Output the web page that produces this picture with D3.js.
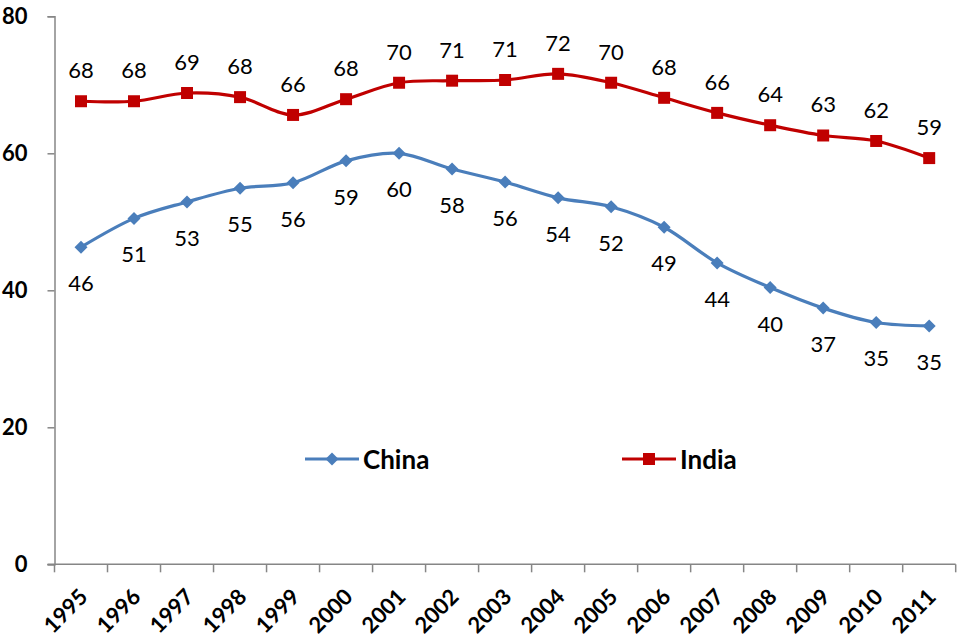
<!DOCTYPE html>
<html>
<head>
<meta charset="utf-8">
<script src="https://cdn.jsdelivr.net/npm/d3@7/dist/d3.min.js"></script>
<style>
  html, body { margin: 0; padding: 0; background: #fff; }
  svg { display: block; font-family: Lato, "Open Sans", sans-serif; }
</style>
</head>
<body>
<svg id="chart" width="960" height="641"></svg>
<script>
// Share data, 1995–2011
const years = ["1995","1996","1997","1998","1999","2000","2001","2002","2003",
               "2004","2005","2006","2007","2008","2009","2010","2011"];
const china = [46.3, 50.5, 52.9, 54.9, 55.7, 58.9, 60.0, 57.7, 55.8,
               53.5, 52.2, 49.2, 44.0, 40.4, 37.4, 35.3, 34.8];
const india = [67.6, 67.6, 68.8, 68.2, 65.6, 67.9, 70.3, 70.6, 70.7,
               71.6, 70.3, 68.1, 65.9, 64.1, 62.6, 61.8, 59.3];
const yTicks = [0, 20, 40, 60, 80];

const series = [
  { name: "China", values: china, color: "#4a7ebb", marker: "diamond", labelDy: 44 },
  { name: "India", values: india, color: "#c00000", marker: "square", labelDy: -23 }
];

const svg = d3.select("#chart");
const plotLeft = 54.5, plotRight = 955.7, plotTop = 16.3, plotBottom = 564.3;

const x = d3.scaleBand().domain(years).range([plotLeft, plotRight]);
const y = d3.scaleLinear().domain([0, 80]).range([plotBottom, plotTop]);
const cx = d => x(d) + x.bandwidth() / 2;

// Y axis
const yAxis = svg.append("g")
  .attr("transform", `translate(${plotLeft},0)`)
  .call(d3.axisLeft(y).tickValues(yTicks).tickSize(7).tickPadding(20));
yAxis.select(".domain").attr("stroke", "#868686").attr("stroke-width", 1.5);
yAxis.selectAll(".tick line").attr("stroke", "#868686").attr("stroke-width", 1.5);
yAxis.selectAll(".tick text")
  .attr("font-family", "Lato, sans-serif")
  .attr("font-size", 22).attr("font-weight", "bold").attr("fill", "#000");

// X axis: ticks at band boundaries
const xAxisG = svg.append("g").attr("transform", `translate(0,${plotBottom})`);
xAxisG.append("line")
  .attr("x1", plotLeft - 7).attr("x2", plotRight)
  .attr("stroke", "#868686").attr("stroke-width", 1.5);
const bounds = years.map(d => x(d)).concat([plotRight]);
xAxisG.selectAll("line.tk").data(bounds).join("line")
  .attr("class", "tk")
  .attr("x1", d => d).attr("x2", d => d)
  .attr("y1", 0).attr("y2", 8)
  .attr("stroke", "#868686").attr("stroke-width", 1.5);
xAxisG.selectAll("text").data(years).join("text")
  .attr("transform", d => `translate(${cx(d) + 8},${34}) rotate(-45)`)
  .attr("text-anchor", "end")
  .attr("font-size", 22).attr("font-weight", "bold").attr("fill", "#000")
  .text(d => d);

const line = d3.line()
  .x((v, i) => cx(years[i]))
  .y(v => y(v))
  .curve(d3.curveCardinal.tension(0));

const diamond = s => `M0,${-s}L${s},0L0,${s}L${-s},0Z`;
const square = s => `M${-s},${-s}H${s}V${s}H${-s}Z`;
const markerPath = (m) => m === "diamond" ? diamond(6.5) : square(6);

series.forEach(s => {
  const g = svg.append("g");
  g.append("path")
    .attr("d", line(s.values))
    .attr("fill", "none")
    .attr("stroke", s.color)
    .attr("stroke-width", 3.2)
    .attr("stroke-linejoin", "round");
  g.selectAll("path.mk").data(s.values).join("path")
    .attr("class", "mk")
    .attr("transform", (v, i) => `translate(${cx(years[i])},${y(v)})`)
    .attr("d", markerPath(s.marker))
    .attr("fill", s.color);
  g.selectAll("text").data(s.values).join("text")
    .attr("x", (v, i) => cx(years[i]))
    .attr("y", v => y(v) + s.labelDy)
    .attr("text-anchor", "middle")
    .attr("font-size", 22)
    .attr("fill", "#000")
    .text(v => d3.format(".0f")(v));
});

// Legend
const legendItems = [
  { s: series[0], x0: 305, x1: 359, tx: 363 },
  { s: series[1], x0: 622, x1: 676, tx: 680 }
];
const ly = 459;
legendItems.forEach(it => {
  const g = svg.append("g");
  g.append("line")
    .attr("x1", it.x0).attr("x2", it.x1).attr("y1", ly).attr("y2", ly)
    .attr("stroke", it.s.color).attr("stroke-width", 3.2);
  g.append("path")
    .attr("transform", `translate(${(it.x0 + it.x1) / 2},${ly})`)
    .attr("d", markerPath(it.s.marker))
    .attr("fill", it.s.color);
  g.append("text")
    .attr("x", it.tx).attr("y", ly + 9.5)
    .attr("font-size", 26).attr("font-weight", "bold").attr("fill", "#000")
    .text(it.s.name);
});
</script>
</body>
</html>
